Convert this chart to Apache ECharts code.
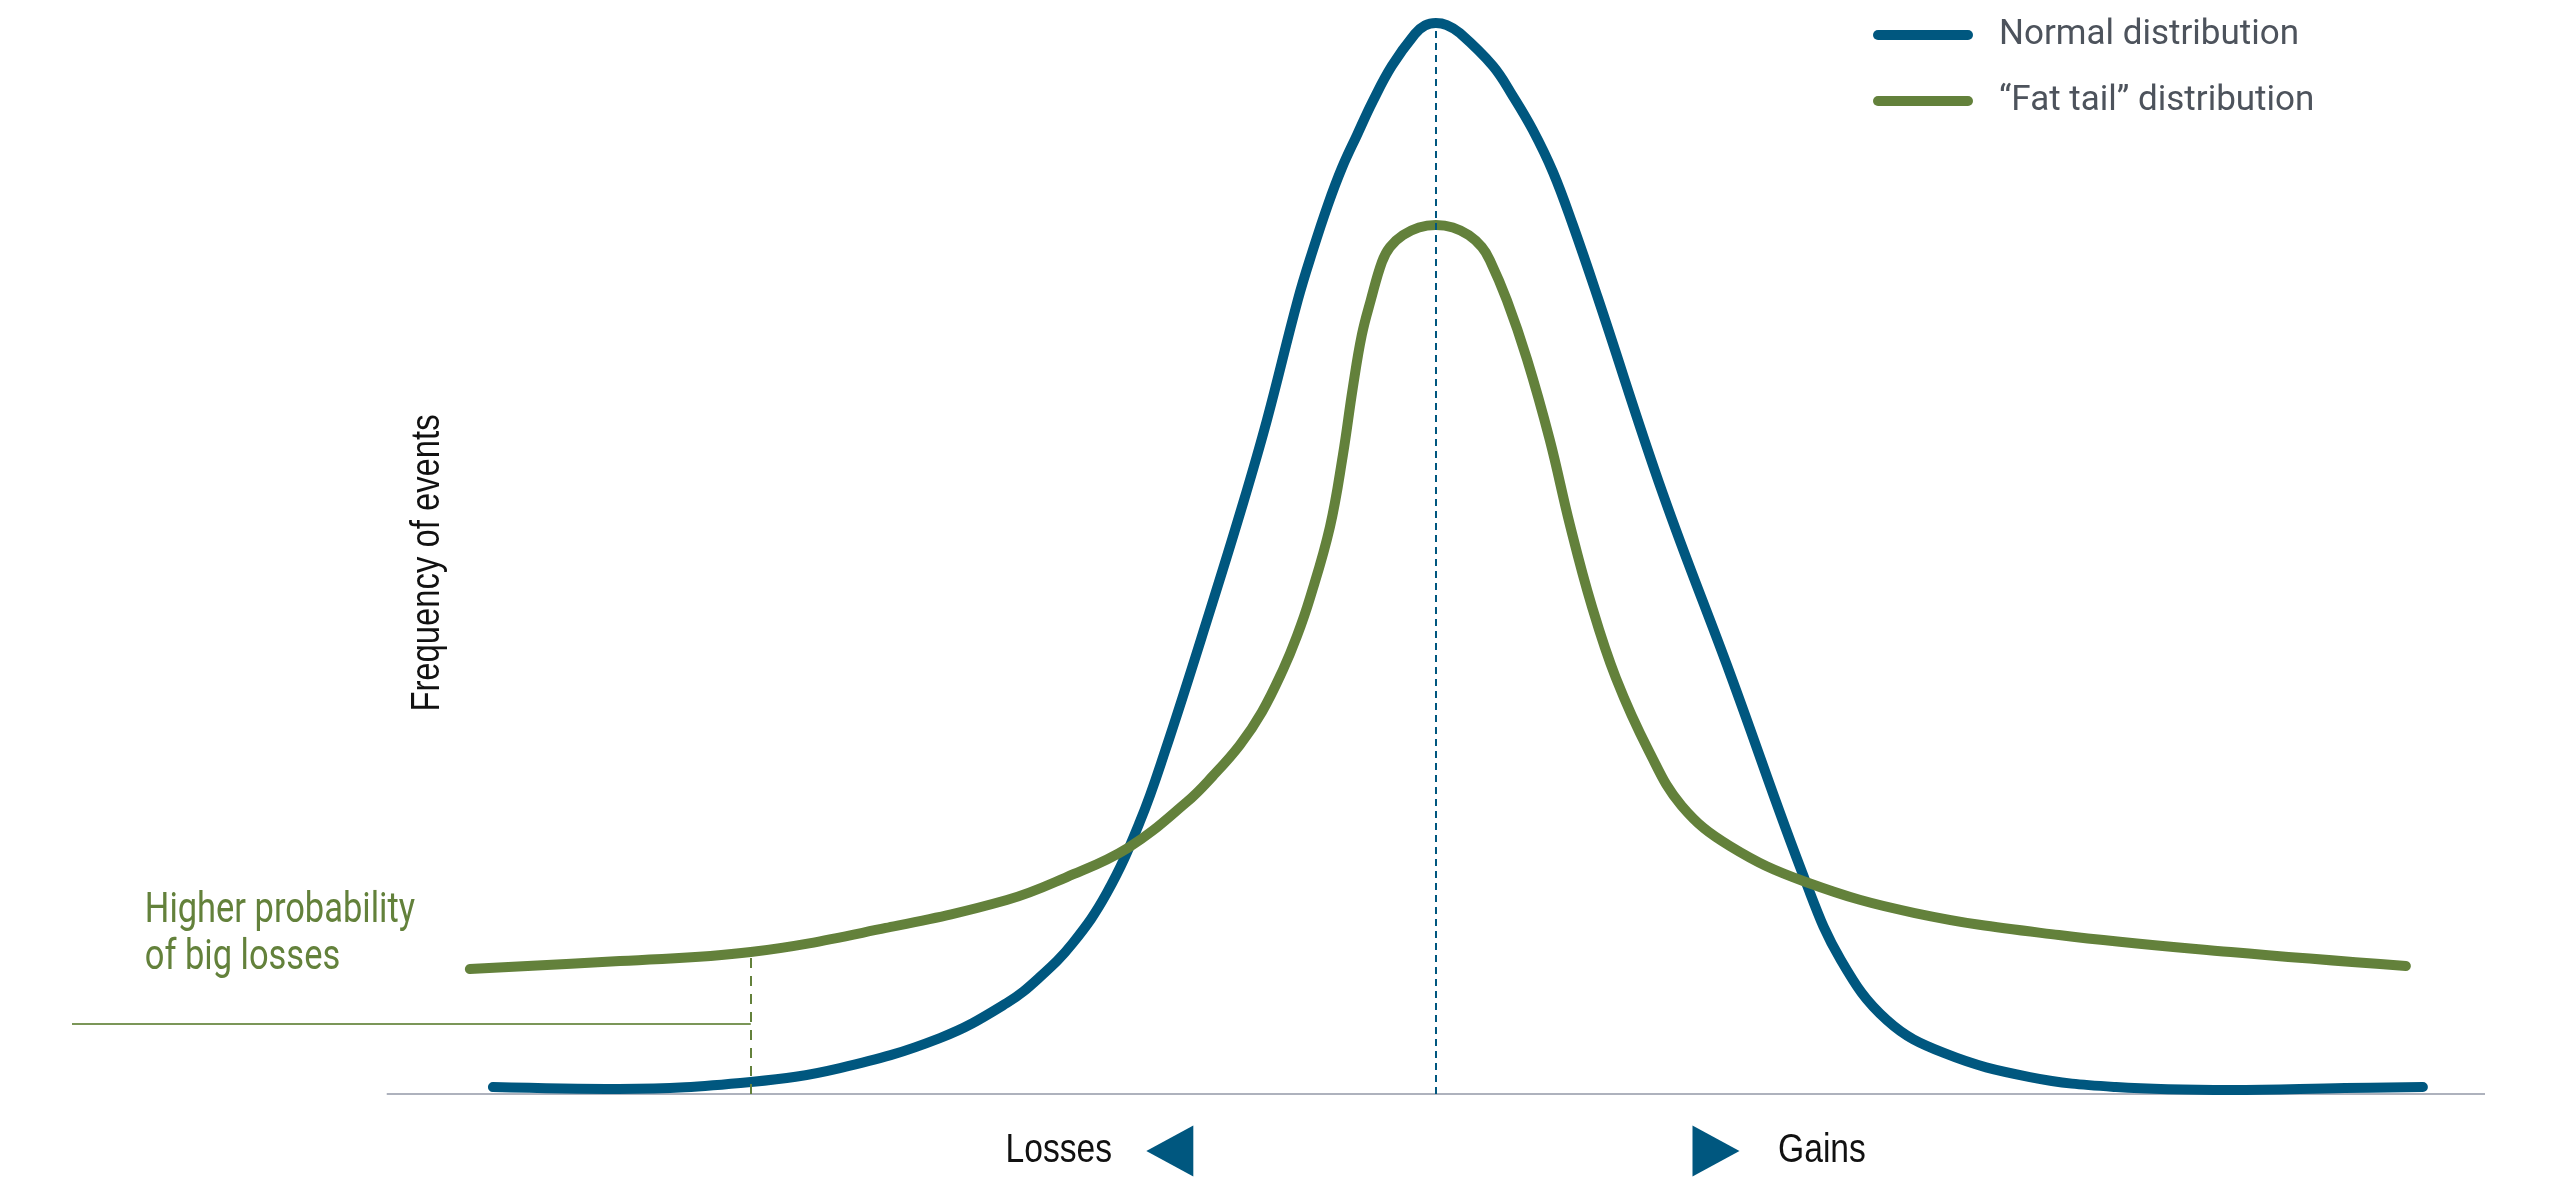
<!DOCTYPE html>
<html><head><meta charset="utf-8">
<script src="https://cdn.jsdelivr.net/npm/echarts@6/dist/echarts.min.js"></script>
<style>html,body{margin:0;padding:0;background:#fff}#c{width:2560px;height:1200px}</style>
</head><body><div id="c"></div>
<script>
// ---- data ----
const seriesNames = ['Normal distribution', '\u201cFat tail\u201d distribution'];
const normalX = [-44.94, -38.94, -32.65, -28.40, -23.64, -20.45, -18.87, -17.30, -15.68, -14.11, -12.92, -10.77, -9.20, -8.05, -6.58, -5.86, -5.15, -4.48, -3.76, -3.00, -2.10, -1.00, -0.52, 0, 0.52, 1.14, 2.72, 3.67, 4.62, 5.58, 6.53, 7.72, 10.82, 14.01, 17.63, 19.30, 21.49, 24.21, 28.31, 32.41, 37.89, 43.32, 47.04];
const normalY = [0.65, 0.47, 1.12, 2.42, 5.21, 8.47, 10.89, 14.06, 18.72, 25.33, 31.84, 44.97, 54.93, 62.76, 73.93, 78.58, 82.77, 86.22, 89.29, 92.46, 95.72, 98.70, 99.49, 99.72, 99.53, 98.79, 95.72, 92.92, 89.76, 85.85, 80.91, 74.12, 55.87, 39.20, 19.74, 12.48, 6.89, 3.82, 1.58, 0.65, 0.37, 0.56, 0.65];
const fatX = [-46.04, -38.89, -32.65, -26.21, -20.45, -17.59, -14.68, -11.87, -10.63, -9.34, -8.29, -7.29, -6.62, -6.00, -5.05, -4.43, -3.96, -3.53, -3.10, -2.57, -2.19, -1.57, -0.81, 0, 0.81, 1.57, 2.19, 2.57, 3.38, 4.34, 5.43, 6.39, 7.43, 8.58, 10.15, 11.72, 14.01, 17.63, 22.83, 29.69, 37.89, 46.23];
const fatY = [11.64, 12.38, 13.22, 15.46, 18.06, 20.20, 22.91, 27.19, 29.61, 32.50, 35.57, 39.48, 42.64, 46.18, 52.79, 59.50, 65.74, 70.67, 73.93, 77.47, 78.86, 79.96, 80.68, 80.91, 80.68, 79.96, 78.86, 77.65, 73.93, 68.44, 60.89, 52.98, 45.44, 38.73, 31.94, 26.82, 23.09, 19.74, 16.85, 14.80, 13.22, 11.92];
const axisTitle = 'Frequency of events';
const axisTitlePos = [-48.04, 49.44];
const directionLabels = ['Losses', 'Gains'];
const directionLabelX = [-17.97, 18.40];
const arrowX = [-12.68, 13.35];
const directionY = -5.31;
const annotationText = 'Higher probability\nof big losses';
const annotationPos = [-61.53, 14.85];
const tailX = -32.65;        // dashed marker position (x)
const tailLeaderY = 6.52;    // horizontal leader line level
const baseRange = [-50, 50]; // baseline extent
const xRange = [-65, 50];
const yRange = [0, 100];

// ---- styles ----
const BLUE = '#00577F', GREEN = '#63813B';
const NARROW = "'Liberation Sans', Arial, sans-serif";
const COND = "Roboto, 'Liberation Sans', sans-serif";

const zip = (xs, ys) => xs.map((x, i) => [x, ys[i]]);
const tailTop = fatY[fatX.indexOf(tailX)];
const peakIdx = normalY.indexOf(Math.max(...normalY));

// text marks (content from the arrays above; styles here)
const textMarks = [
  {text: directionLabels[0], pos: [directionLabelX[0], directionY], font: NARROW, size: 41, fill: '#111111', align: 'center', rot: 0},
  {text: directionLabels[1], pos: [directionLabelX[1], directionY], font: NARROW, size: 41, fill: '#111111', align: 'center', rot: 0},
  {text: axisTitle, pos: axisTitlePos, font: NARROW, size: 40, fill: '#111111', align: 'center', rot: Math.PI / 2},
  {text: annotationText, pos: annotationPos, font: COND, size: 42, fill: GREEN, align: 'left', rot: 0}
];

const chart = echarts.init(document.getElementById('c'), null, {renderer: 'canvas'});
chart.setOption({
  animation: false,
  backgroundColor: '#ffffff',
  grid: {left: 72, right: 75, top: 20, bottom: 106},
  xAxis: {type: 'value', min: xRange[0], max: xRange[1], show: false},
  yAxis: {type: 'value', min: yRange[0], max: yRange[1], show: false},
  legend: {
    data: seriesNames,
    orient: 'vertical', left: 1868, top: 7, itemGap: 20,
    itemWidth: 100, itemHeight: 10,
    icon: 'path://M5,0 H95 A5,5 0 0 1 95,10 H5 A5,5 0 0 1 5,0 Z',
    textStyle: {fontFamily: COND, fontSize: 35, lineHeight: 46, color: '#4d535c', padding: [0, 0, 0, 21]}
  },
  series: [
    {
      name: 'baseline', type: 'line', z: 1, silent: true,
      data: [[baseRange[0], 0], [baseRange[1], 0]],
      showSymbol: false, symbol: 'none',
      lineStyle: {color: '#aeb2bd', width: 2},
      markLine: {
        silent: true, symbol: ['none', 'none'], label: {show: false},
        data: [
          [{coord: [normalX[peakIdx], 0], lineStyle: {color: BLUE, width: 2, type: [7, 5]}}, {coord: [normalX[peakIdx], normalY[peakIdx]]}],
          [{coord: [tailX, 0], lineStyle: {color: GREEN, width: 2, type: [10, 8]}}, {coord: [tailX, tailTop]}],
          [{coord: [xRange[0], tailLeaderY], lineStyle: {color: '#7b9658', width: 2, type: 'solid'}}, {coord: [tailX, tailLeaderY]}]
        ]
      }
    },
    {
      name: seriesNames[0], type: 'line', z: 3,
      data: zip(normalX, normalY), smooth: 0.4,
      showSymbol: false, symbol: 'none',
      color: BLUE,
      lineStyle: {color: BLUE, width: 10, cap: 'round', join: 'round'}
    },
    {
      name: seriesNames[1], type: 'line', z: 4,
      data: zip(fatX, fatY), smooth: 0.4,
      showSymbol: false, symbol: 'none',
      color: GREEN,
      lineStyle: {color: GREEN, width: 10, cap: 'round', join: 'round'}
    },
    {
      name: 'arrows', type: 'scatter', clip: false, silent: true, z: 5,
      symbol: 'triangle', symbolSize: [51, 47],
      itemStyle: {color: BLUE, opacity: 1},
      data: [
        {value: [arrowX[0], directionY], symbolRotate: 90},
        {value: [arrowX[1], directionY], symbolRotate: -90}
      ]
    },
    {
      name: 'texts', type: 'custom', coordinateSystem: 'cartesian2d', silent: true, z: 6, clip: false,
      data: textMarks.map(t => t.pos),
      renderItem: function (params, api) {
        const t = textMarks[params.dataIndex];
        const p = api.coord([api.value(0), api.value(1)]);
        return {
          type: 'text', x: p[0], y: p[1], rotation: t.rot, scaleX: 0.82, scaleY: 1,
          style: {
            text: t.text, fill: t.fill, fontFamily: t.font, fontSize: t.size,
            align: t.align, verticalAlign: 'middle', lineHeight: 47
          }
        };
      }
    }
  ]
});
</script>
</body></html>
